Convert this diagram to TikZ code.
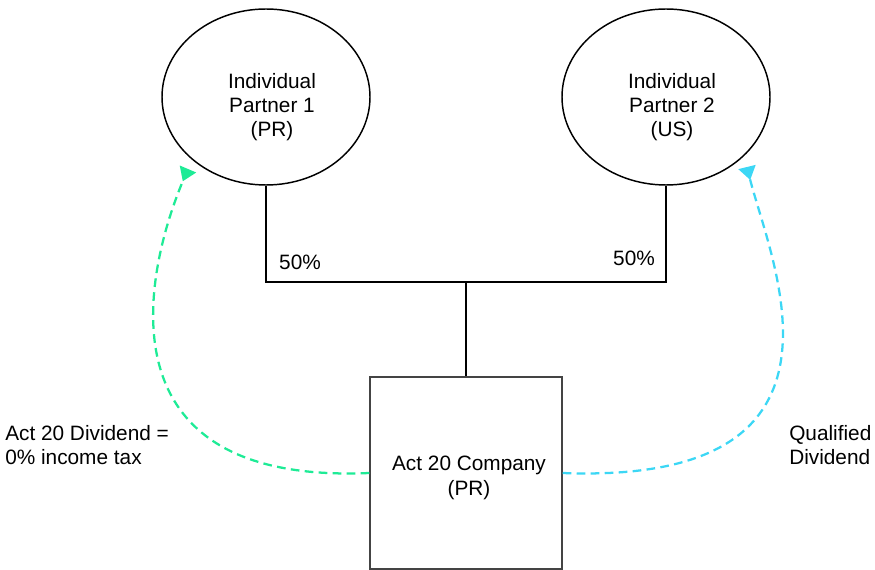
\documentclass[tikz,border=0pt]{standalone}
\usepackage{fontspec}
\setmainfont{Liberation Sans}
\usetikzlibrary{shapes.geometric,arrows.meta}

\definecolor{divgreen}{RGB}{30,235,150}
\definecolor{divcyan}{RGB}{60,215,245}
\definecolor{boxgray}{RGB}{68,68,68}

\tikzset{
  partner/.style={draw=black, line width=1.1pt, ellipse, inner sep=0pt,
    minimum width=156pt, minimum height=132pt},
  company/.style={draw=boxgray, line width=1.1pt, rectangle, inner sep=0pt,
    minimum width=144pt, minimum height=144pt},
  txt/.style={align=center, inner sep=0pt, font=\fontsize{15.6pt}{18.2pt}\selectfont},
  lefttxt/.style={align=left, inner sep=0pt, font=\fontsize{15.6pt}{18.2pt}\selectfont},
  owner/.style={draw=black, line width=1.5pt},
  flow/.style={line width=1.7pt, dash pattern=on 6.5pt off 4pt,
    -{Triangle[reversed, length=10pt, width=13pt]}},
}

\begin{document}
\begin{tikzpicture}[x=0.75pt, y=-0.75pt]
  \useasboundingbox (0,0) rectangle (875,570);

  % partners
  \node[partner] (p1) at (266,97) {};
  \node[txt] (p1t) at (272,107) {Individual\\Partner 1\\(PR)};
  \node[partner] (p2) at (666,97) {};
  \node[txt] (p2t) at (672,107) {Individual\\Partner 2\\(US)};

  % company
  \node[company] (co) at (466,473) {};
  \node[txt] (cot) at (469,478) {Act 20 Company\\(PR)};

  % ownership lines
  \coordinate (j) at (466,282);
  \draw[owner] (p1.south) |- (j) -| (p2.south);
  \draw[owner] (j) -- (co.north);
  \node[txt] (s1) at (300,262) {50\%};
  \node[txt] (s2) at (634,258) {50\%};

  % dividend flows
  \coordinate (a1) at (188,169);
  \coordinate (a2) at (747,167);
  \draw[flow, draw=divgreen]
    (co.west) .. controls (95,485) and (145,270) .. (a1);
  \draw[flow, draw=divcyan]
    (co.east) .. controls (875,485) and (770,260) .. (a2);

  % flow labels
  \node[lefttxt, anchor=west] (l1) at (5,445) {Act 20 Dividend =\\0\% income tax};
  \node[lefttxt, anchor=west] (l2) at (789,445) {Qualified\\Dividend};
\end{tikzpicture}
\end{document}
